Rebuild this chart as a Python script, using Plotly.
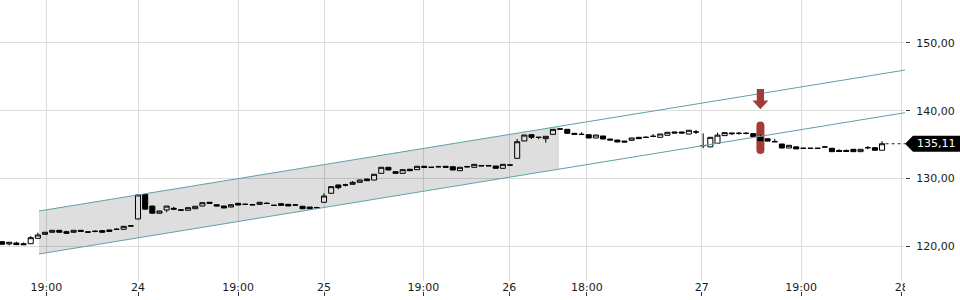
import plotly.graph_objects as go

# ---------------- data (15-minute bars, trading hours only) ----------------
bar_index = list(range(124))

opens = [120.64, 120.30, 120.44, 120.34, 120.34, 121.14, 121.73, 122.03, 122.32, 122.12,
         122.03, 122.32, 122.09, 122.18, 122.27, 122.37, 122.44, 122.47, 122.94, 124.00,
         127.60, 125.90, 124.85, 125.32, 125.57, 125.34, 125.28, 125.51, 125.91, 126.46,
         126.10, 125.91, 125.76, 126.31, 126.17, 126.12, 126.16, 126.33, 126.02, 126.25,
         126.16, 126.07, 125.87, 125.76, 125.67, 126.46, 127.79, 129.02, 129.03, 129.12,
         129.41, 129.90, 129.75, 130.74, 131.63, 130.98, 130.74, 131.34, 131.28, 131.78,
         131.64, 131.73, 131.78, 131.72, 131.13, 131.74, 131.63, 131.90, 131.90, 131.82,
         131.48, 131.98, 132.96, 135.52, 136.45, 136.07, 135.86, 136.50, 137.30, 137.24,
         136.65, 136.51, 136.45, 135.96, 136.26, 135.81, 135.66, 135.51, 135.62, 136.06,
         136.07, 136.22, 136.06, 136.36, 136.85, 136.85, 136.55, 136.86, 134.85, 134.65,
         135.18, 136.31, 136.70, 136.66, 136.66, 136.60, 136.06, 135.85, 135.45, 135.07,
         134.48, 134.65, 134.45, 134.45, 134.45, 134.64, 134.44, 134.12, 134.12, 134.29,
         133.94, 134.54, 134.53, 134.15]

closes = [120.25, 120.55, 120.20, 120.20, 121.23, 121.63, 122.03, 122.32, 122.03, 121.88,
          122.32, 122.17, 122.05, 122.16, 122.03, 122.17, 122.48, 122.91, 122.98, 127.55,
          125.45, 124.85, 125.17, 125.90, 125.45, 125.30, 125.66, 125.87, 126.40, 126.31,
          125.91, 125.62, 126.10, 126.06, 126.15, 126.08, 126.46, 126.28, 126.00, 126.01,
          125.91, 126.05, 125.51, 125.51, 125.65, 127.39, 128.77, 128.62, 129.01, 129.41,
          129.75, 129.65, 130.60, 131.63, 131.23, 130.74, 131.28, 131.13, 131.78, 131.63,
          131.62, 131.71, 131.63, 131.23, 131.63, 131.70, 132.07, 131.84, 131.84, 131.48,
          132.07, 131.96, 135.41, 136.40, 136.06, 136.05, 136.21, 137.24, 137.28, 136.65,
          136.50, 136.49, 135.96, 136.40, 135.81, 135.66, 135.37, 135.37, 135.96, 135.86,
          136.05, 136.20, 136.55, 136.80, 136.70, 136.70, 137.10, 136.84, 134.83, 136.06,
          136.38, 136.75, 136.60, 136.64, 136.64, 136.16, 135.56, 135.50, 135.40, 134.48,
          134.88, 134.35, 134.43, 134.43, 134.43, 134.62, 133.94, 133.96, 133.96, 133.94,
          134.29, 134.52, 134.15, 135.11]

highs = [120.70, 120.58, 120.64, 120.52, 121.48, 121.97, 122.08, 122.35, 122.35, 122.27,
         122.35, 122.35, 122.12, 122.32, 122.37, 122.40, 122.62, 122.95, 123.00, 127.60,
         127.65, 125.95, 125.20, 125.93, 125.80, 125.36, 125.68, 125.90, 126.43, 126.48,
         126.12, 125.93, 126.12, 126.33, 126.27, 126.14, 126.48, 126.45, 126.12, 126.35,
         126.18, 126.18, 125.89, 125.78, 125.80, 127.79, 128.80, 129.05, 129.20, 129.60,
         129.78, 129.92, 130.63, 131.66, 131.66, 131.00, 131.30, 131.36, 131.80, 131.80,
         131.66, 131.85, 131.80, 131.74, 131.65, 131.85, 132.09, 131.92, 131.92, 131.84,
         132.09, 132.00, 135.81, 136.42, 136.47, 136.09, 136.23, 137.26, 137.32, 137.26,
         136.67, 136.80, 136.47, 136.42, 136.28, 135.83, 135.68, 135.53, 135.98, 136.08,
         136.20, 136.55, 136.57, 136.82, 136.87, 136.87, 137.12, 137.15, 136.65, 136.08,
         136.75, 136.77, 136.72, 136.85, 136.80, 136.62, 136.45, 135.87, 135.85, 135.09,
         134.90, 134.67, 134.55, 134.47, 134.47, 134.78, 134.46, 134.30, 134.28, 134.31,
         134.31, 134.78, 134.55, 135.50]

lows = [120.20, 120.10, 120.18, 120.16, 120.30, 121.10, 121.70, 122.00, 122.00, 121.85,
        122.00, 122.15, 122.03, 122.03, 122.00, 122.15, 122.42, 122.45, 122.92, 123.95,
        125.40, 124.80, 124.80, 125.00, 125.42, 125.28, 125.26, 125.49, 125.89, 126.29,
        125.89, 125.60, 125.74, 126.04, 126.05, 126.06, 126.14, 126.20, 125.92, 125.99,
        125.89, 125.98, 125.49, 125.49, 125.55, 126.40, 127.75, 128.38, 128.80, 129.10,
        129.39, 129.63, 129.73, 130.72, 131.21, 130.72, 130.72, 131.11, 131.26, 131.61,
        131.60, 131.60, 131.61, 131.21, 131.11, 131.60, 131.61, 131.82, 131.82, 131.46,
        131.46, 131.94, 132.94, 135.50, 135.81, 135.78, 135.27, 136.48, 137.26, 136.63,
        136.48, 136.47, 135.94, 135.94, 135.79, 135.64, 135.35, 135.35, 135.60, 135.84,
        135.95, 136.18, 136.04, 136.34, 136.68, 136.68, 136.53, 136.55, 134.44, 134.60,
        135.16, 136.29, 136.40, 136.45, 136.50, 136.14, 135.54, 135.48, 135.38, 134.46,
        134.46, 134.33, 134.35, 134.41, 134.41, 134.60, 133.92, 133.94, 133.94, 133.92,
        133.92, 134.30, 134.13, 134.13]

# x-axis tick positions (bar index) and labels
tick_pos = [6.2, 19.0, 33.0, 45.0, 58.9, 70.9, 81.75, 97.8, 111.7, 125.75]
tick_text = ["19:00", "24", "19:00", "25", "19:00", "26", "18:00", "27", "19:00", "28"]

# trend channel (bar index, price)
channel_x = [5.16, 77.85, 126.21]
channel_upper = [125.17, 137.68, 146.0]
channel_lower = [118.82, 131.38, 139.7]

# signal marker
signal_idx = 106
signal_bar_low, signal_bar_high = 133.6, 138.4
arrow_tip, arrow_neck, arrow_top = 140.2, 141.5, 143.2

# axis ranges
x_lo, x_hi = -0.29, 126.21
y_lo, y_hi = 114.83, 156.35

FONT = "DejaVu Sans"
GRID = "#dcdcdc"
TEAL = "#5fa0aa"
RED = "#a13d35"

fig = go.Figure()

# shaded channel area
fig.add_trace(go.Scatter(
    x=channel_x[:2] + channel_x[1::-1],
    y=channel_upper[:2] + channel_lower[1::-1],
    fill="toself", fillcolor="rgba(0,0,0,0.13)", line=dict(width=0),
    mode="lines", hoverinfo="skip"))

# channel lines
for ys in (channel_upper, channel_lower):
    fig.add_trace(go.Scatter(x=channel_x, y=ys, mode="lines",
                             line=dict(color=TEAL, width=1), hoverinfo="skip"))

# candles
fig.add_trace(go.Candlestick(
    x=bar_index, open=opens, high=highs, low=lows, close=closes,
    increasing=dict(line=dict(color="black", width=1), fillcolor="white"),
    decreasing=dict(line=dict(color="black", width=1), fillcolor="black"),
    whiskerwidth=0, hoverinfo="skip"))

# last price dashed line (on overlay axis x2)
fig.add_trace(go.Scatter(
    x=[bar_index[-1] + 0.5, x_hi], y=[closes[-1], closes[-1]],
    mode="lines", line=dict(color="#222", width=1, dash="3px,3px"),
    xaxis="x2", hoverinfo="skip"))

# signal bar (rounded) and arrow
r = 4 / ((281) / (y_hi - y_lo))
lo, hi = signal_bar_low, signal_bar_high
bar_path = (f"M -4,{lo + r} L -4,{hi - r} Q -4,{hi} 0,{hi} Q 4,{hi} 4,{hi - r} "
            f"L 4,{lo + r} Q 4,{lo} 0,{lo} Q -4,{lo} -4,{lo + r} Z")
fig.add_shape(type="path", xref="x", yref="y", xsizemode="pixel", xanchor=signal_idx,
              path=bar_path, fillcolor=RED, line=dict(width=0), layer="below")
arrow_path = (f"M -3.6,{arrow_top} L 3.6,{arrow_top} L 3.6,{arrow_neck} L 8,{arrow_neck} "
              f"L 0,{arrow_tip} L -8,{arrow_neck} L -3.6,{arrow_neck} Z")
fig.add_shape(type="path", xref="x", yref="y", xsizemode="pixel", xanchor=signal_idx,
              path=arrow_path, fillcolor=RED, line=dict(width=0), layer="above")

# price tag
fig.add_shape(type="path", xref="paper", yref="y", xsizemode="pixel", ysizemode="pixel",
              xanchor=1, yanchor=closes[-1],
              path="M 0,0 L 8,8 L 60,8 L 60,-8 L 8,-8 Z",
              fillcolor="black", line=dict(width=0), layer="above")
fig.add_annotation(xref="paper", x=1, xanchor="left", xshift=10,
                   yref="y", y=closes[-1], yanchor="middle",
                   text=f"{closes[-1]:.2f}".replace(".", ","), showarrow=False,
                   font=dict(family=FONT, size=11, color="white"))

# hide part of the last x label beyond the plot edge
fig.add_shape(type="rect", xref="paper", yref="paper", x0=1.0, x1=1.08, y0=-0.05, y1=0.034,
              fillcolor="white", line=dict(width=0), layer="above")

fig.update_layout(
    width=960, height=300,
    margin=dict(l=0, r=55, t=0, b=9),
    paper_bgcolor="white", plot_bgcolor="white",
    showlegend=False,
    separators=",.",
    boxgap=0.16, boxgroupgap=0.16,
    font=dict(family=FONT, size=11, color="#1a1a1a"),
    xaxis=dict(range=[x_lo, x_hi], tickmode="array", tickvals=tick_pos, ticktext=tick_text,
               showticklabels=False, ticks="", showgrid=True, gridcolor=GRID, gridwidth=1,
               zeroline=False, showline=False, rangeslider=dict(visible=False), fixedrange=True),
    xaxis2=dict(range=[x_lo, x_hi], overlaying="x", anchor="free", position=0,
                tickmode="array", tickvals=tick_pos, ticktext=tick_text,
                ticks="outside", ticklen=4, tickcolor="#333", ticklabelposition="inside",
                ticklabelstandoff=-5, ticklabeloverflow="allow",
                showgrid=False, zeroline=False, showline=False, fixedrange=True,
                tickfont=dict(family=FONT, size=11, color="#1a1a1a")),
    yaxis=dict(domain=[10 / 291, 1], range=[y_lo, y_hi], side="right",
               tickmode="linear", tick0=0, dtick=10, tickformat=".2f",
               ticks="outside", ticklen=4, tickcolor="#333", ticklabelstandoff=4,
               showgrid=True, gridcolor=GRID, gridwidth=1, zeroline=False, showline=False,
               fixedrange=True),
)

fig.write_html("out.html")
